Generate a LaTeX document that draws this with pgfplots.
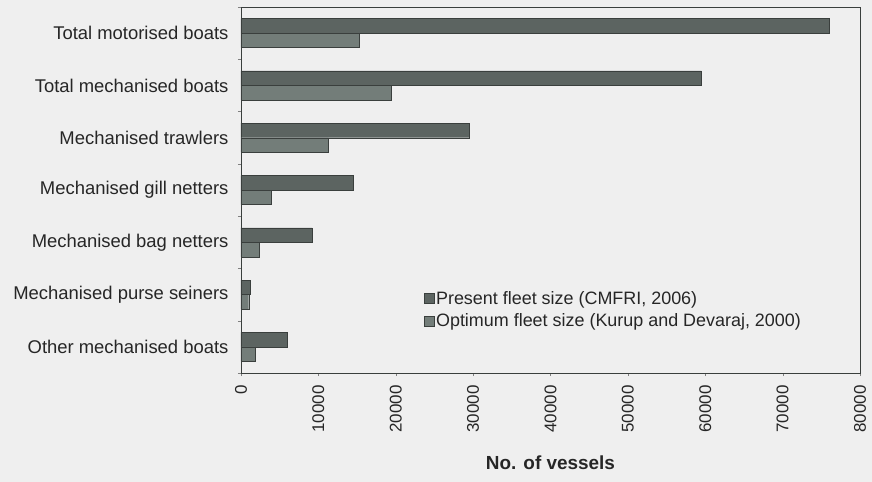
\documentclass[border=0pt]{standalone}
\usepackage{pgfplots}
\pgfplotsset{compat=1.18}
\usepackage{fontspec}
\setmainfont{Liberation Sans}
\definecolor{bg}{HTML}{EFEFEF}
\definecolor{present}{HTML}{5C6461}
\definecolor{optimum}{HTML}{737D79}
\definecolor{edge}{HTML}{3A3F3D}
\begin{document}
\begin{tikzpicture}
\fill[bg] (-241bp,-109bp) rectangle (631bp,373bp);
\begin{axis}[
  scale only axis, width=619bp, height=366bp,
  xbar, bar width=14.5bp,
  y dir=reverse,
  xmin=0, xmax=80000, ymin=-0.5, ymax=6.5,
  xtick={0,10000,...,80000},
  ytick={0,...,6},
  yticklabels={Total motorised boats,Total mechanised boats,Mechanised trawlers,Mechanised gill netters,Mechanised bag netters,Mechanised purse seiners,Other mechanised boats},
  minor ytick={-0.5,0.5,...,6.5},
  major y tick style={draw=none},
  minor tick length=3bp, major tick length=3bp,
  tick align=outside, xtick pos=bottom, ytick pos=left,
  x tick label style={rotate=90, anchor=east, font=\fontsize{17}{19}\selectfont, xshift=-6bp},
  y tick label style={font=\fontsize{18.5}{20}\selectfont, xshift=-6bp},
  /pgf/number format/assume math mode=true,
  /pgf/number format/set thousands separator={},
  scaled x ticks=false,
  tick label style={text=black!85},
  xlabel={\textbf{No. of vessels}},
  xlabel style={font=\fontsize{19}{21}\selectfont, text=black!85, yshift=-16bp},
  axis line style={edge, line width=0.8pt},
  legend style={at={(0.29,0.235)}, anchor=north west, draw=none, fill=none,
    font=\fontsize{18}{20}\selectfont, text=black!85, row sep=4bp},
  legend cell align=left,
  legend image code/.code={\draw[#1] (0bp,-5bp) rectangle (10bp,5bp);},
]
\addplot[fill=present, draw=edge, bar shift=7.25bp] coordinates {
  (76000,0) (59500,1) (29500,2) (14500,3) (9200,4) (1200,5) (6000,6)};
\addplot[fill=optimum, draw=edge, bar shift=-7.25bp] coordinates {
  (15300,0) (19400,1) (11300,2) (3900,3) (2300,4) (1000,5) (1800,6)};
\legend{{Present fleet size (CMFRI, 2006)},{Optimum fleet size (Kurup and Devaraj, 2000)}}
\end{axis}
\end{tikzpicture}
\end{document}
